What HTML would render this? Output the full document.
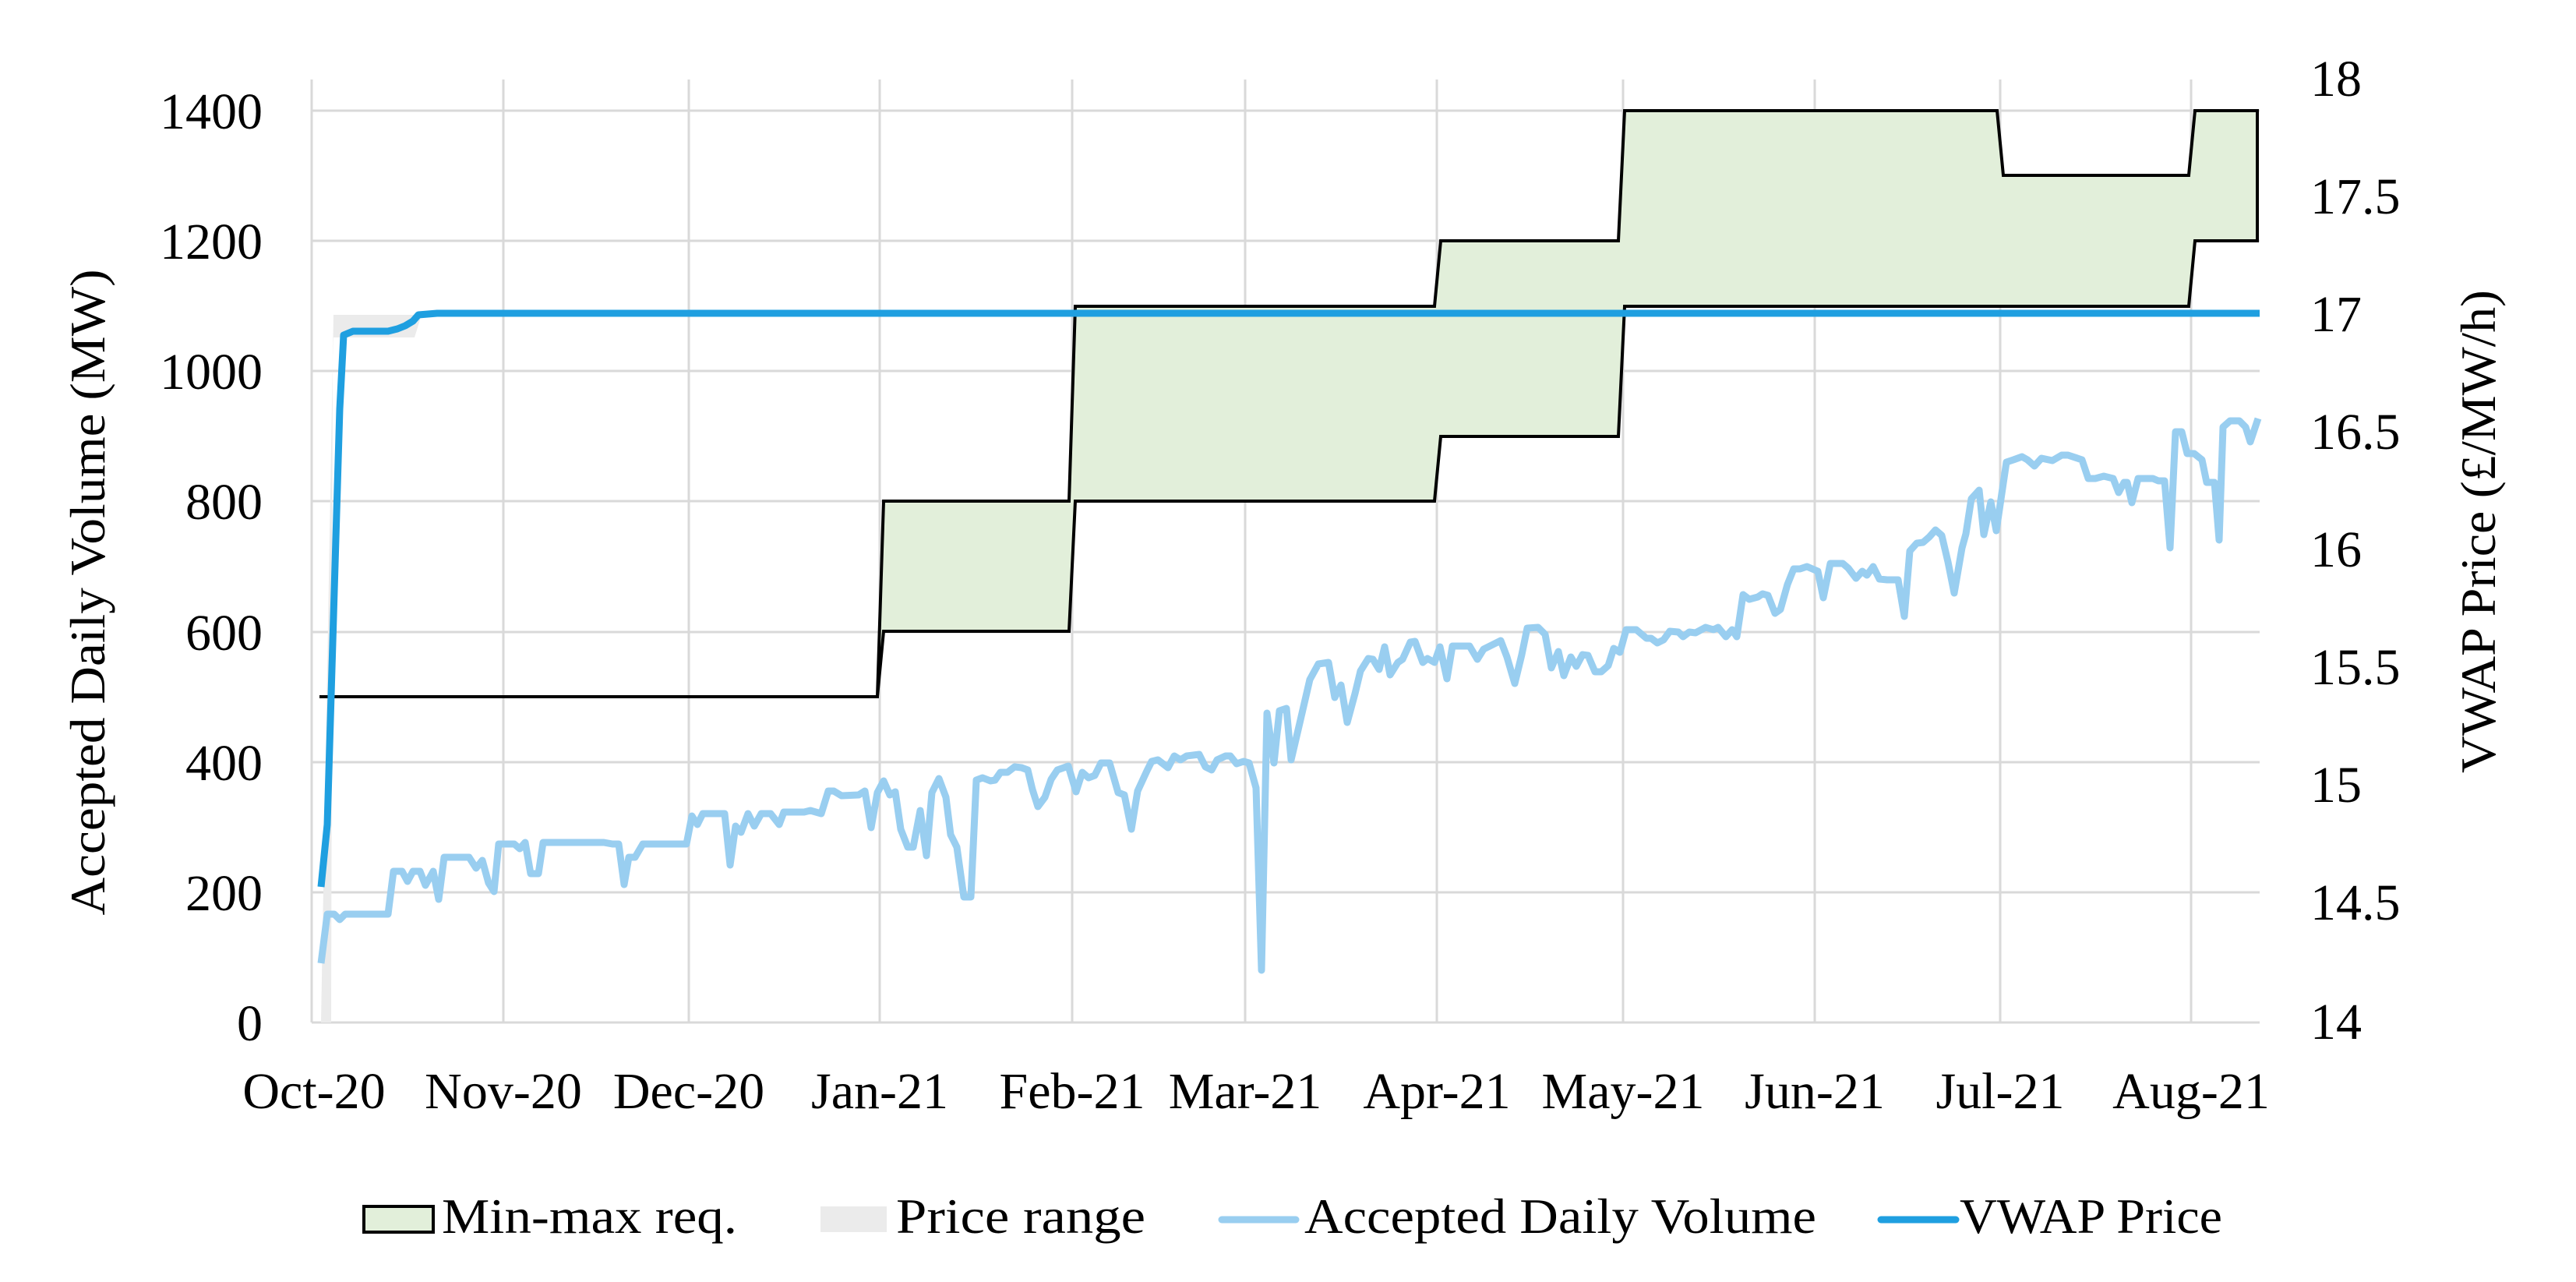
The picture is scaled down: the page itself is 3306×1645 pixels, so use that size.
<!DOCTYPE html>
<html><head><meta charset="utf-8"><style>html,body{margin:0;padding:0;background:#fff}svg{display:block}</style></head><body>
<svg width="3306" height="1645" viewBox="0 0 3306 1645" xmlns="http://www.w3.org/2000/svg" font-family="'Liberation Serif', serif">
<rect width="3306" height="1645" fill="#fff"/>
<g stroke="#d9d9d9" stroke-width="3">
<line x1="400" y1="1312" x2="2900" y2="1312"/>
<line x1="400" y1="1145" x2="2900" y2="1145"/>
<line x1="400" y1="978" x2="2900" y2="978"/>
<line x1="400" y1="811" x2="2900" y2="811"/>
<line x1="400" y1="643" x2="2900" y2="643"/>
<line x1="400" y1="476" x2="2900" y2="476"/>
<line x1="400" y1="309" x2="2900" y2="309"/>
<line x1="400" y1="142" x2="2900" y2="142"/>
<line x1="400" y1="102" x2="400" y2="1312"/>
<line x1="646" y1="102" x2="646" y2="1312"/>
<line x1="884" y1="102" x2="884" y2="1312"/>
<line x1="1129" y1="102" x2="1129" y2="1312"/>
<line x1="1376" y1="102" x2="1376" y2="1312"/>
<line x1="1598" y1="102" x2="1598" y2="1312"/>
<line x1="1844" y1="102" x2="1844" y2="1312"/>
<line x1="2083" y1="102" x2="2083" y2="1312"/>
<line x1="2329" y1="102" x2="2329" y2="1312"/>
<line x1="2567" y1="102" x2="2567" y2="1312"/>
<line x1="2812" y1="102" x2="2812" y2="1312"/>
</g>
<polygon points="412,1312 425,1312 427,433 532,433 541,404 428,404" fill="#ebebeb"/>
<polygon points="410,894 1126,894 1134,643 1372,643 1380,393 1841,393 1849,309 2077,309 2085,142 2563,142 2571,225 2809,225 2817,142 2897,142 2897,309 2817,309 2809,393 2085,393 2077,560 1849,560 1841,643 1380,643 1372,810 1134,810 1126,894 410,894" fill="#e2efda" stroke="#000" stroke-width="4" stroke-linejoin="miter"/>
<polyline fill="none" stroke="#99cef0" stroke-width="9" stroke-linejoin="round" points="412,1236 420,1173 429,1173 436,1180 443,1173 498,1173 505,1118 516,1118 523,1131 530,1118 539,1118 546,1136 556,1118 563,1154 570,1100 602,1100 611,1114 619,1104 627,1133 634,1144 640,1083 660,1083 667,1089 674,1081 681,1121 691,1121 697,1081 775,1081 786,1083 794,1083 801,1135 807,1100 815,1100 825,1083 881,1083 888,1047 895,1058 902,1044 930,1044 937,1110 944,1060 951,1068 960,1044 968,1060 977,1044 989,1044 1000,1058 1006,1042 1032,1042 1040,1040 1054,1044 1063,1015 1070,1015 1080,1021 1102,1020 1110,1015 1118,1062 1126,1017 1134,1002 1142,1020 1149,1016 1156,1064 1165,1087 1172,1087 1181,1040 1189,1098 1196,1017 1205,999 1214,1023 1220,1071 1228,1087 1237,1151 1246,1151 1253,1001 1261,998 1271,1002 1277,1001 1284,991 1293,991 1302,984 1311,985 1319,988 1325,1013 1332,1035 1341,1023 1349,1000 1357,988 1371,983 1381,1016 1389,991 1397,998 1405,995 1413,979 1424,979 1435,1017 1443,1020 1452,1064 1460,1015 1472,989 1478,977 1486,975 1499,985 1507,970 1515,975 1523,970 1539,968 1547,984 1555,988 1562,975 1573,970 1579,970 1587,980 1596,977 1603,979 1612,1011 1619,1245 1626,915 1635,979 1642,912 1651,909 1657,975 1668,928 1681,872 1692,852 1705,850 1713,895 1721,879 1729,927 1739,890 1746,861 1756,845 1762,846 1770,859 1777,830 1784,866 1794,850 1800,846 1810,824 1816,823 1826,850 1832,845 1841,850 1848,830 1857,871 1864,829 1886,829 1896,846 1904,833 1926,822 1934,843 1944,877 1953,840 1960,806 1974,805 1983,814 1991,857 2000,836 2007,867 2016,843 2023,855 2031,840 2038,841 2047,862 2055,862 2064,854 2071,832 2079,837 2087,808 2100,808 2113,819 2119,819 2127,825 2135,821 2143,810 2154,811 2160,817 2168,811 2176,812 2189,805 2199,808 2205,805 2215,817 2223,808 2229,817 2237,763 2245,769 2256,766 2262,762 2269,764 2278,787 2285,782 2294,750 2302,730 2310,730 2319,727 2333,733 2340,767 2349,723 2365,723 2372,729 2382,742 2390,733 2396,738 2404,727 2412,743 2422,744 2436,744 2444,791 2451,707 2460,697 2468,696 2476,689 2484,680 2492,687 2500,721 2508,761 2518,703 2523,685 2530,640 2540,629 2546,686 2555,644 2562,681 2575,593 2584,590 2595,586 2602,590 2611,598 2620,588 2634,591 2646,584 2654,584 2672,590 2680,614 2689,614 2700,611 2712,614 2719,632 2726,619 2730,619 2736,645 2744,614 2763,614 2770,617 2778,617 2785,703 2792,554 2800,554 2807,582 2816,582 2826,590 2832,619 2842,619 2848,693 2853,548 2862,540 2874,540 2882,548 2888,567 2898,537"/>
<polyline fill="none" stroke="#1f9fe0" stroke-width="9" stroke-linejoin="round" points="412,1138 420,1058 436,525 441,430 453,425 498,425 510,422 520,418 530,412 537,404 561,402 2900,402"/>
<g font-size="66" fill="#000" text-anchor="end">
<text x="337" y="1335">0</text>
<text x="337" y="1168">200</text>
<text x="337" y="1001">400</text>
<text x="337" y="834">600</text>
<text x="337" y="666">800</text>
<text x="337" y="499">1000</text>
<text x="337" y="332">1200</text>
<text x="337" y="165">1400</text>
</g>
<g font-size="66" fill="#000">
<text x="2965" y="123">18</text>
<text x="2965" y="274">17.5</text>
<text x="2965" y="425">17</text>
<text x="2965" y="576">16.5</text>
<text x="2965" y="727">16</text>
<text x="2965" y="878">15.5</text>
<text x="2965" y="1029">15</text>
<text x="2965" y="1180">14.5</text>
<text x="2965" y="1333">14</text>
</g>
<g font-size="66" fill="#000" text-anchor="middle">
<text x="403" y="1422">Oct-20</text>
<text x="646" y="1422">Nov-20</text>
<text x="884" y="1422">Dec-20</text>
<text x="1129" y="1422">Jan-21</text>
<text x="1376" y="1422">Feb-21</text>
<text x="1598" y="1422">Mar-21</text>
<text x="1844" y="1422">Apr-21</text>
<text x="2083" y="1422">May-21</text>
<text x="2329" y="1422">Jun-21</text>
<text x="2567" y="1422">Jul-21</text>
<text x="2812" y="1422">Aug-21</text>
</g>
<text transform="translate(134,760) rotate(-90)" font-size="64" text-anchor="middle" textLength="829" lengthAdjust="spacingAndGlyphs">Accepted Daily Volume (MW)</text>
<text transform="translate(3202,682) rotate(-90)" font-size="64" text-anchor="middle" textLength="620" lengthAdjust="spacingAndGlyphs">VWAP Price (£/MW/h)</text>
<rect x="467" y="1548" width="89" height="33" fill="#e2efda" stroke="#000" stroke-width="4"/>
<text x="567" y="1582" font-size="64" textLength="379" lengthAdjust="spacingAndGlyphs">Min-max req.</text>
<rect x="1053" y="1548" width="85" height="33" fill="#ebebeb"/>
<text x="1150" y="1582" font-size="64" textLength="320" lengthAdjust="spacingAndGlyphs">Price range</text>
<line x1="1568" y1="1565" x2="1663" y2="1565" stroke="#99cef0" stroke-width="9" stroke-linecap="round"/>
<text x="1674" y="1582" font-size="64" textLength="657" lengthAdjust="spacingAndGlyphs">Accepted Daily Volume</text>
<line x1="2414" y1="1565" x2="2510" y2="1565" stroke="#1f9fe0" stroke-width="9" stroke-linecap="round"/>
<text x="2515" y="1582" font-size="64" textLength="337" lengthAdjust="spacingAndGlyphs">VWAP Price</text>
</svg>
</body></html>
